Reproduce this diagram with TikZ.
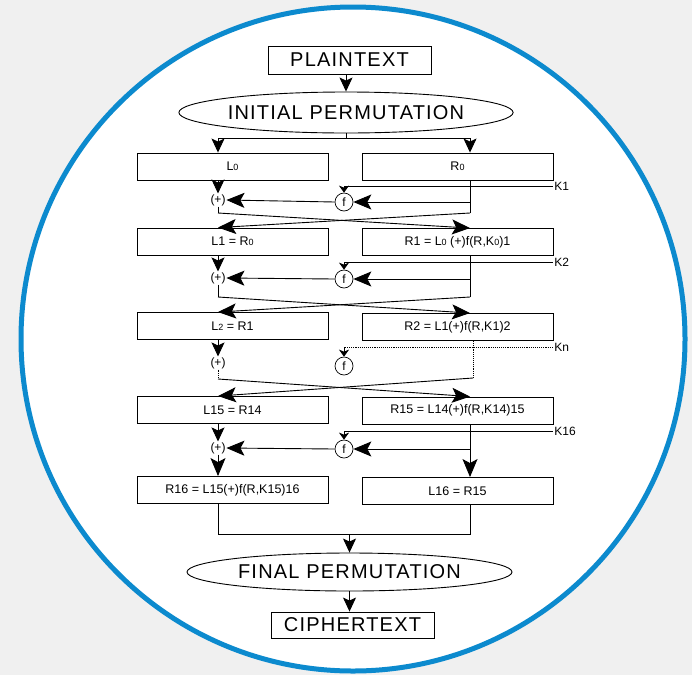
\documentclass[tikz,border=0pt]{standalone}
\usepackage{fontspec}
\setmainfont{Liberation Sans}
\newfontfamily\bigf[LetterSpace=6]{Liberation Sans}
\usetikzlibrary{arrows.meta,shapes.geometric}
\definecolor{ringblue}{RGB}{12,138,206}
\definecolor{bggray}{RGB}{240,240,240}
\newcommand\sd[1]{{\fontsize{9}{9}\selectfont #1}}
\begin{document}
\begin{tikzpicture}[x=1pt,y=-1pt,line width=0.9pt,
  box/.style={draw, rectangle, minimum width=191pt, minimum height=27pt, inner sep=0pt, font=\fontsize{12.5}{14}\selectfont},
  titlebox/.style={draw, rectangle, minimum width=163pt, minimum height=28pt, inner sep=0pt, font=\bigf\fontsize{20}{22}\selectfont},
  perm/.style={draw, ellipse, minimum width=327pt, minimum height=41pt, inner sep=0pt, font=\bigf\fontsize{20}{22}\selectfont},
  fnode/.style={draw, circle, line width=0.7pt, minimum size=18pt, inner sep=0pt, font=\fontsize{12}{12}\selectfont},
  plus/.style={inner sep=0.5pt, font=\fontsize{12}{12}\selectfont},
  klab/.style={anchor=west, inner sep=1pt, font=\fontsize{12}{12}\selectfont},
  bigarr/.style={-{Stealth[length=18pt,width=15pt,inset=4pt]}},
  downarr/.style={-{Stealth[length=14pt,width=13pt,inset=3pt]}},
  smallarr/.style={-{Stealth[length=7pt,width=10pt,inset=2pt]}}
]
\fill[bggray] (0,0) rectangle (692,675);
\useasboundingbox (0,0) rectangle (692,675);
\fill[white] (353,339) circle[radius=332pt];
\draw[ringblue, line width=5pt] (353,339) circle[radius=332pt];

\coordinate (lx) at (218,0);
\coordinate (rx) at (470,0);

% top
\node[titlebox] (pt) at (349.5,60) {PLAINTEXT};
\node[perm] (ip) at (346,112.5) {INITIAL PERMUTATION};
\node[box] (L0) at (232.5,166.5) {L\sd{0}};
\node[box] (R0) at (457.5,166.5) {R\sd{0}};
\draw[downarr] (pt.south -| ip.north) -- (ip.north);
\coordinate (ipb) at (ip.south |- 0,138);
\draw (ip.south) -- (ipb);
\draw (ipb -| lx) -- (ipb -| rx);
\draw[downarr] (ipb -| lx) -- (L0.north -| lx);
\draw[downarr] (ipb -| rx) -- (L0.north -| rx);

% round 1
\node[box] (L1) at (232.5,241.5) {L1 = R\sd{0}};
\node[box] (R1) at (457.5,242) {R1 = L\sd{0} (+)f(R,K\sd{0})1};
\node[plus] (p1) at (218,200) {(+)};
\node[fnode] (f1) at (344,202) {f};
\coordinate (k1) at (553,186);
\node[klab] (k1l) at (k1) {K1};
\draw[smallarr] (k1) -| (f1.north);
\draw[downarr] (L0.south -| lx) -- (p1.north);
\coordinate (r1b) at (470,213);
\coordinate (l1b) at (218,213);
\draw (R0.south -| rx) -- (r1b);
\draw[bigarr] (f1 -| rx) -- (f1.east);
\draw[bigarr] (f1.west) -- (p1.east);
\draw (p1.south) -- (l1b);
\draw[bigarr] (l1b) -- (R1.north -| rx);
\draw[bigarr] (r1b) -- (L1.north -| lx);

% round 2
\node[box] (L2) at (232.5,326) {L\sd{2} = R1};
\node[box] (R2) at (457.5,327) {R2 = L1(+)f(R,K1)2};
\node[plus] (p2) at (218,278) {(+)};
\node[fnode] (f2) at (344,279) {f};
\coordinate (k2) at (553,262);
\node[klab] (k2l) at (k2) {K2};
\draw[smallarr] (k2) -| (f2.north);
\draw[downarr] (L1.south -| lx) -- (p2.north);
\coordinate (r2b) at (470,297);
\coordinate (l2b) at (218,297);
\draw (R1.south -| rx) -- (r2b);
\draw[bigarr] (f2 -| rx) -- (f2.east);
\draw[bigarr] (f2.west) -- (p2.east);
\draw (p2.south) -- (l2b);
\draw[bigarr] (l2b) -- (R2.north -| rx);
\draw[bigarr] (r2b) -- (L2.north -| lx);

% round n
\node[box] (L15) at (232.5,410) {L15 = R14};
\node[box] (R15) at (457.5,410.5) {R15 = L14(+)f(R,K14)15};
\node[plus] (p3) at (218,363) {(+)};
\node[fnode] (f3) at (344,366) {f};
\coordinate (kn) at (553,347);
\node[klab] (knl) at (kn) {Kn};
\draw[densely dotted] (kn) -- (kn -| f3);
\draw[smallarr] (kn -| f3) -- (f3.north);
\draw[downarr] (L2.south -| lx) -- (p3.north);
\coordinate (r3b) at (473,378);
\coordinate (l3b) at (218,379);
\draw[densely dotted] (R2.south -| r3b) -- (r3b);
\draw[densely dotted] (p3.south) -- (l3b);
\draw[bigarr] (l3b) -- (R15.north -| rx);
\draw[bigarr] (r3b) -- (L15.north -| lx);

% round 16
\node[box] (R16) at (232.5,490) {R16 = L15(+)f(R,K15)16};
\node[box] (L16) at (457.5,491) {L16 = R15};
\node[plus] (p4) at (218,448) {(+)};
\node[fnode] (f4) at (344,449) {f};
\coordinate (k16) at (553,431);
\node[klab] (k16l) at (k16) {K16};
\draw[smallarr] (k16) -| (f4.north);
\draw[downarr] (L15.south -| lx) -- (p4.north);
\draw[bigarr] (R15.south -| rx) -- (L16.north -| rx);
\draw[bigarr] (f4 -| rx) -- (f4.east);
\draw[bigarr] (f4.west) -- (p4.east);
\draw[bigarr] (p4.south) -- (R16.north -| lx);

% bottom
\node[perm, minimum width=325pt, minimum height=38pt] (fp) at (349.5,572) {FINAL PERMUTATION};
\node[titlebox, minimum height=26pt] (ct) at (352.5,625) {CIPHERTEXT};
\coordinate (jn) at (0,534);
\draw (R16.south -| lx) -- (jn -| lx) -- (jn -| rx) -- (L16.south -| rx);
\draw[downarr] (jn -| fp.north) -- (fp.north);
\draw[downarr] (fp.south) -- (fp.south |- ct.north);
\end{tikzpicture}
\end{document}
